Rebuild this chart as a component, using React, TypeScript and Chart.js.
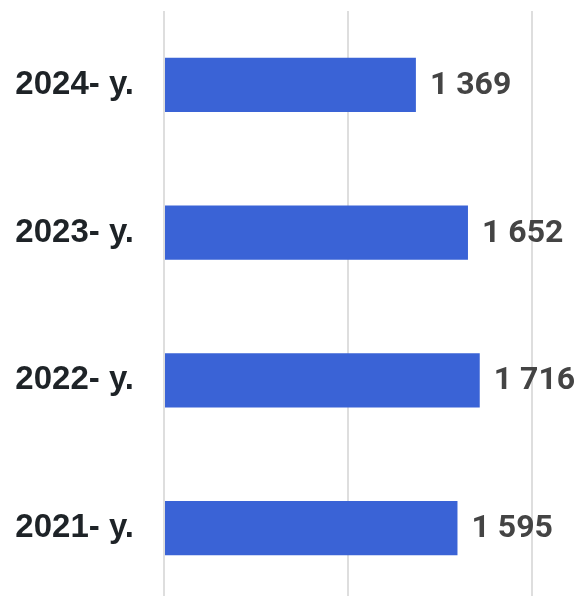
import React, { useEffect, useRef } from "react";
import { Chart, registerables } from "chart.js";

Chart.register(...registerables);

const categories = ["2024- y.", "2023- y.", "2022- y.", "2021- y."];
const values = [1369, 1652, 1716, 1595];
const xTicks = [0, 1000, 2000];

const fmt = (v: number) => String(v).replace(/\B(?=(\d{3})+(?!\d))/g, " ");

const valueLabels = {
  id: "valueLabels",
  afterDatasetsDraw(chart: any) {
    const ctx = chart.ctx;
    const meta = chart.getDatasetMeta(0);
    ctx.save();
    ctx.font = "bold 32px Roboto";
    ctx.fillStyle = "#444444";
    ctx.textAlign = "left";
    ctx.textBaseline = "middle";
    meta.data.forEach((bar: any, i: number) => {
      ctx.fillText(fmt(values[i]), bar.x + 14, bar.y + 1);
    });
    ctx.restore();
  },
};

export default function App() {
  const ref = useRef<HTMLCanvasElement | null>(null);
  useEffect(() => {
    if (!ref.current) return;
    const chart = new Chart(ref.current, {
      type: "bar",
      data: {
        labels: categories,
        datasets: [
          {
            data: values,
            backgroundColor: "#3a63d6",
            borderWidth: 0,
            barPercentage: 0.366,
            categoryPercentage: 1,
          },
        ],
      },
      options: {
        indexAxis: "y",
        animation: false,
        responsive: false,
        maintainAspectRatio: false,
        layout: { padding: { top: 3, right: 51, bottom: 6, left: 0 } },
        plugins: { legend: { display: false }, tooltip: { enabled: false } },
        scales: {
          x: {
            min: 0,
            max: 2000,
            afterBuildTicks: (scale: any) => {
              scale.ticks = xTicks.map((v) => ({ value: v }));
            },
            ticks: { display: false },
            border: { display: false },
            grid: { color: "#dedede", lineWidth: 2, drawTicks: false },
          },
          y: {
            afterFit: (scale: any) => {
              scale.width = 156;
              scale.paddingTop = 0;
              scale.paddingBottom = 0;
            },
            ticks: {
              padding: 30,
              color: "#1e2327",
              font: { family: "'Liberation Sans'", size: 33, weight: "bold" },
            },
            border: { display: false },
            grid: { display: false, drawTicks: false },
          },
        },
      },
      plugins: [valueLabels],
    });
    return () => chart.destroy();
  }, []);
  return (
    <div style={{ width: 575, height: 588, overflow: "hidden" }}>
      <canvas ref={ref} width={575} height={600} style={{ display: "block" }} />
    </div>
  );
}
